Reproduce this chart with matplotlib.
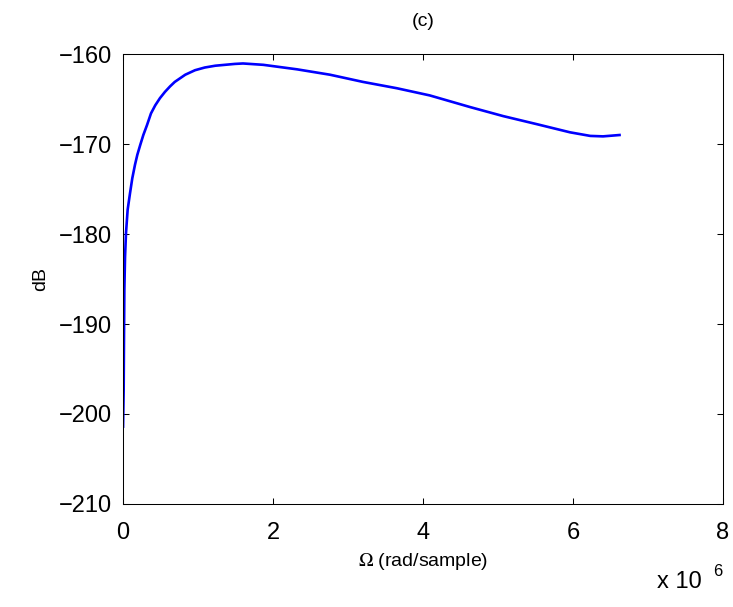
import matplotlib
matplotlib.use("Agg")
import matplotlib.pyplot as plt

plt.rcParams["font.family"] = ["Liberation Sans", "DejaVu Sans"]
plt.rcParams["mathtext.fontset"] = "stix"

# frequency in units of 1e6 rad/sample, level in dB
omega = [0.001, 0.009, 0.013, 0.018, 0.027, 0.040, 0.062, 0.093, 0.124,
         0.16, 0.191, 0.23, 0.271, 0.32, 0.373, 0.43, 0.493, 0.56, 0.627,
         0.69, 0.83, 0.96, 1.09, 1.23, 1.49, 1.60, 1.87, 2.32, 2.76, 3.20,
         3.65, 4.09, 4.63, 5.07, 5.52, 5.96, 6.23, 6.40, 6.62]
level_db = [-201.4, -197.3, -191.8, -186.2, -182.6, -179.9, -177.3, -175.5,
            -173.8, -172.3, -171.2, -170.1, -169.0, -167.9, -166.6, -165.7,
            -164.9, -164.2, -163.6, -163.1, -162.3, -161.8, -161.5, -161.3,
            -161.1, -161.05, -161.2, -161.7, -162.3, -163.1, -163.8, -164.6,
            -165.9, -166.9, -167.8, -168.7, -169.1, -169.15, -169.0]

xticks = [0, 2, 4, 6, 8]
yticks = [-210, -200, -190, -180, -170, -160]

fig = plt.figure(figsize=(7.33, 6.07), dpi=100)
ax = fig.add_axes([0.1678, 0.1697, 0.8186, 0.7413])
ax.plot(omega, level_db, color="#0000ff", lw=1.9, solid_joinstyle="round")

ax.set_xlim(0, 8)
ax.set_ylim(-210, -160)
ax.set_xticks(xticks)
ax.set_yticks(yticks)
ax.tick_params(direction="in", length=4.5, width=0.75, labelsize=17,
               top=True, right=True)
ax.tick_params(axis="x", pad=13)
ax.tick_params(axis="y", pad=8)
for sp in ax.spines.values():
    sp.set_linewidth(0.75)

ax.set_title("(c)", fontsize=14, pad=20)
ax.set_ylabel("dB", fontsize=14, labelpad=7)
ax.set_xlabel(r"$\Omega$ (rad/sample)", fontsize=14, labelpad=5)

fig.text(0.896, 1 - 588 / 607, "x 10", fontsize=17, ha="left", va="baseline")
fig.text(0.973, 1 - 576 / 607, "6", fontsize=12, ha="left", va="baseline")

fig.savefig("out.png", dpi=100)
